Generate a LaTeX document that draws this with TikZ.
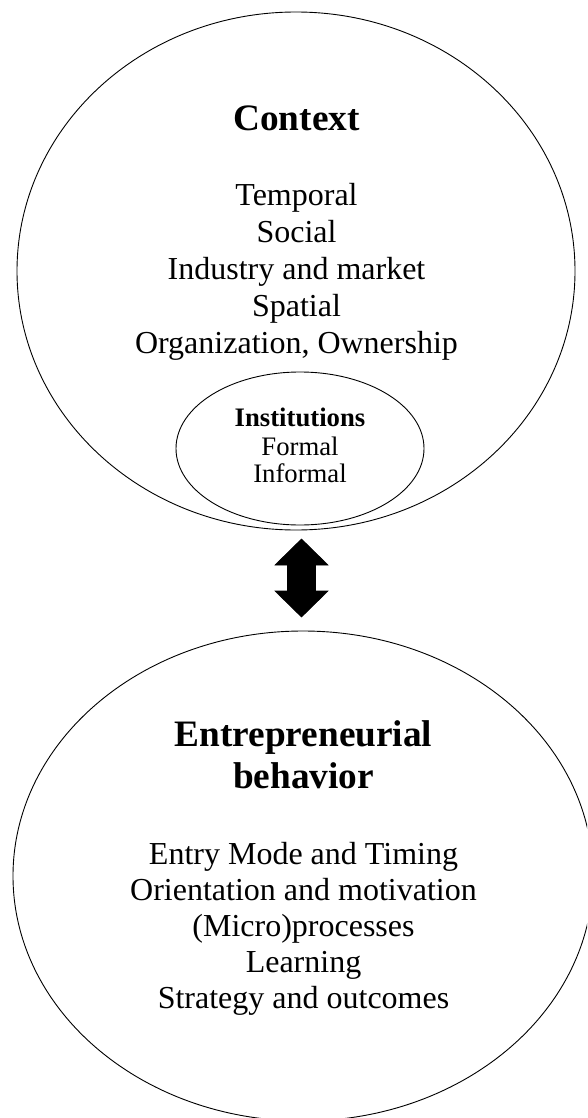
\documentclass[tikz,border=0pt]{standalone}
\usepackage{fontspec}
\setmainfont{Liberation Serif}
\usetikzlibrary{shapes.geometric}
\begin{document}
\begin{tikzpicture}[x=1pt,y=-1pt,
  oval/.style={ellipse,draw=black,line width=0.9pt,inner sep=0pt,outer sep=0pt},
  headtxt/.style={font=\fontsize{37.3}{42.9}\selectfont\bfseries,inner sep=0pt,anchor=base},
  itemtxt/.style={font=\fontsize{32}{36.8}\selectfont,inner sep=0pt,anchor=base},
  insthead/.style={font=\fontsize{26.7}{30}\selectfont\bfseries,inner sep=0pt,anchor=base},
  institem/.style={font=\fontsize{26.7}{30}\selectfont,inner sep=0pt,anchor=base},
  bigarrow/.style={fill=black,draw=black,line width=0.6pt,line join=miter}]
\useasboundingbox (0,0) rectangle (587,1118);
\fill[white] (0,0) rectangle (587,1118);
\begin{scope}
\clip (0,0) rectangle (587,1118);
% outer ellipses
\node[oval,minimum width=558pt,minimum height=518pt] (ctx) at (296,271) {};
\node[oval,fill=white,minimum width=248pt,minimum height=153pt] (inst) at (300,448.5) {};
\node[oval,minimum width=580pt,minimum height=490pt] (eb) at (303,876) {};
% context texts
\node[headtxt] (tctx) at (296.5,130.7) {Context};
\node[itemtxt] (t1) at (296.5,205.8) {Temporal};
\node[itemtxt] (t2) at (296.5,242.6) {Social};
\node[itemtxt] (t3) at (296.5,279.4) {Industry and market};
\node[itemtxt] (t4) at (296.5,316.2) {Spatial};
\node[itemtxt] (t5) at (296.5,353) {Organization, Ownership};
% institutions
\node[insthead] (ti) at (300,426.7) {Institutions};
\node[institem] (ti1) at (300,455.2) {Formal};
\node[institem] (ti2) at (300,482) {Informal};
% behaviour texts
\node[headtxt] (teb1) at (303.5,746.7) {Entrepreneurial};
\node[headtxt] (teb2) at (303.5,788) {behavior};
\node[itemtxt] (b1) at (303.5,864) {Entry Mode and Timing};
\node[itemtxt] (b2) at (303.5,900) {Orientation and motivation};
\node[itemtxt] (b3) at (303.5,936) {(Micro)processes};
\node[itemtxt] (b4) at (303.5,972) {Learning};
\node[itemtxt] (b5) at (303.5,1008) {Strategy and outcomes};
% double arrow
\coordinate (up) at (301.5,539);
\coordinate (down) at (301.5,617);
\filldraw[bigarrow] (up) -- ++(26.5,26) -- ++(-12.5,0) -- ++(0,26) -- ++(12.5,0)
  -- (down) -- ++(-26.5,-26) -- ++(12.5,0) -- ++(0,-26) -- ++(-12.5,0) -- cycle;
\end{scope}
\end{tikzpicture}
\end{document}
